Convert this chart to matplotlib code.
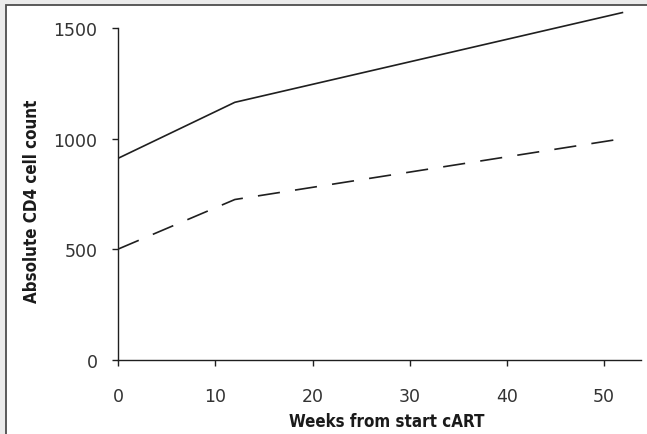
import matplotlib
matplotlib.use("Agg")
import matplotlib.pyplot as plt
from matplotlib.patches import Rectangle

# CD4 trajectories (weeks from cART start vs absolute CD4 count)
weeks_solid = [0, 12, 52]
cd4_solid = [912, 1165, 1572]
weeks_dashed = [0, 12, 51]
cd4_dashed = [501, 725, 994]

x_ticks = [0, 10, 20, 30, 40, 50]
y_ticks = [0, 500, 1000, 1500]
x_label = "Weeks from start cART"
y_label = "Absolute CD4 cell count"

W, H, DPI = 647, 435, 100
fig = plt.figure(figsize=(W / DPI, H / DPI), dpi=DPI)
fig.patch.set_facecolor("#ebebeb")

# white panel with a dark frame, running off the right and bottom edges
fig.patches.append(Rectangle((5.5 / W, -0.05), 1.2, 1 - 6 / H + 0.05,
                             transform=fig.transFigure, facecolor="white",
                             edgecolor="#4d4d4d", linewidth=1.3, zorder=-5))

ax = fig.add_axes([118.3 / W, 1 - 360.7 / H, (640.7 - 118.3) / W, (360.7 - 29.3) / H])
ax.set_facecolor("none")
ax.set_zorder(2)

ink = "#1f1f1f"
ax.plot(weeks_solid, cd4_solid, color=ink, lw=1.2, clip_on=False,
        solid_capstyle="butt")
ln, = ax.plot(weeks_dashed, cd4_dashed, color=ink, lw=1.2, clip_on=False,
              dash_capstyle="butt")
ln.set_dashes((16 / 1.2, 11 / 1.2))

ax.set_xlim(0, 53.8)
ax.set_ylim(0, 1500)
ax.set_xticks(x_ticks)
ax.set_yticks(y_ticks)

for s in ("top", "right"):
    ax.spines[s].set_visible(False)
for s in ("left", "bottom"):
    ax.spines[s].set_color(ink)
    ax.spines[s].set_linewidth(1.0)

ax.tick_params(axis="both", direction="out", length=4, width=1.0, color=ink,
               labelcolor="#333333", labelsize=12.5)
ax.tick_params(axis="x", pad=16)
ax.tick_params(axis="y", pad=11)
for lbl in ax.get_xticklabels() + ax.get_yticklabels():
    lbl.set_family("DejaVu Sans")

label_font = dict(family="DejaVu Sans", stretch="condensed",
                  weight="bold", size=12.2, color="#1a1a1a")
fig.text(387 / W, 1 - 422 / H, x_label, ha="center", va="center", **label_font)
fig.text(32 / W, 1 - 201 / H, y_label, ha="center", va="center",
         rotation=90, **label_font)

fig.savefig("out.png", dpi=DPI, facecolor=fig.get_facecolor())
